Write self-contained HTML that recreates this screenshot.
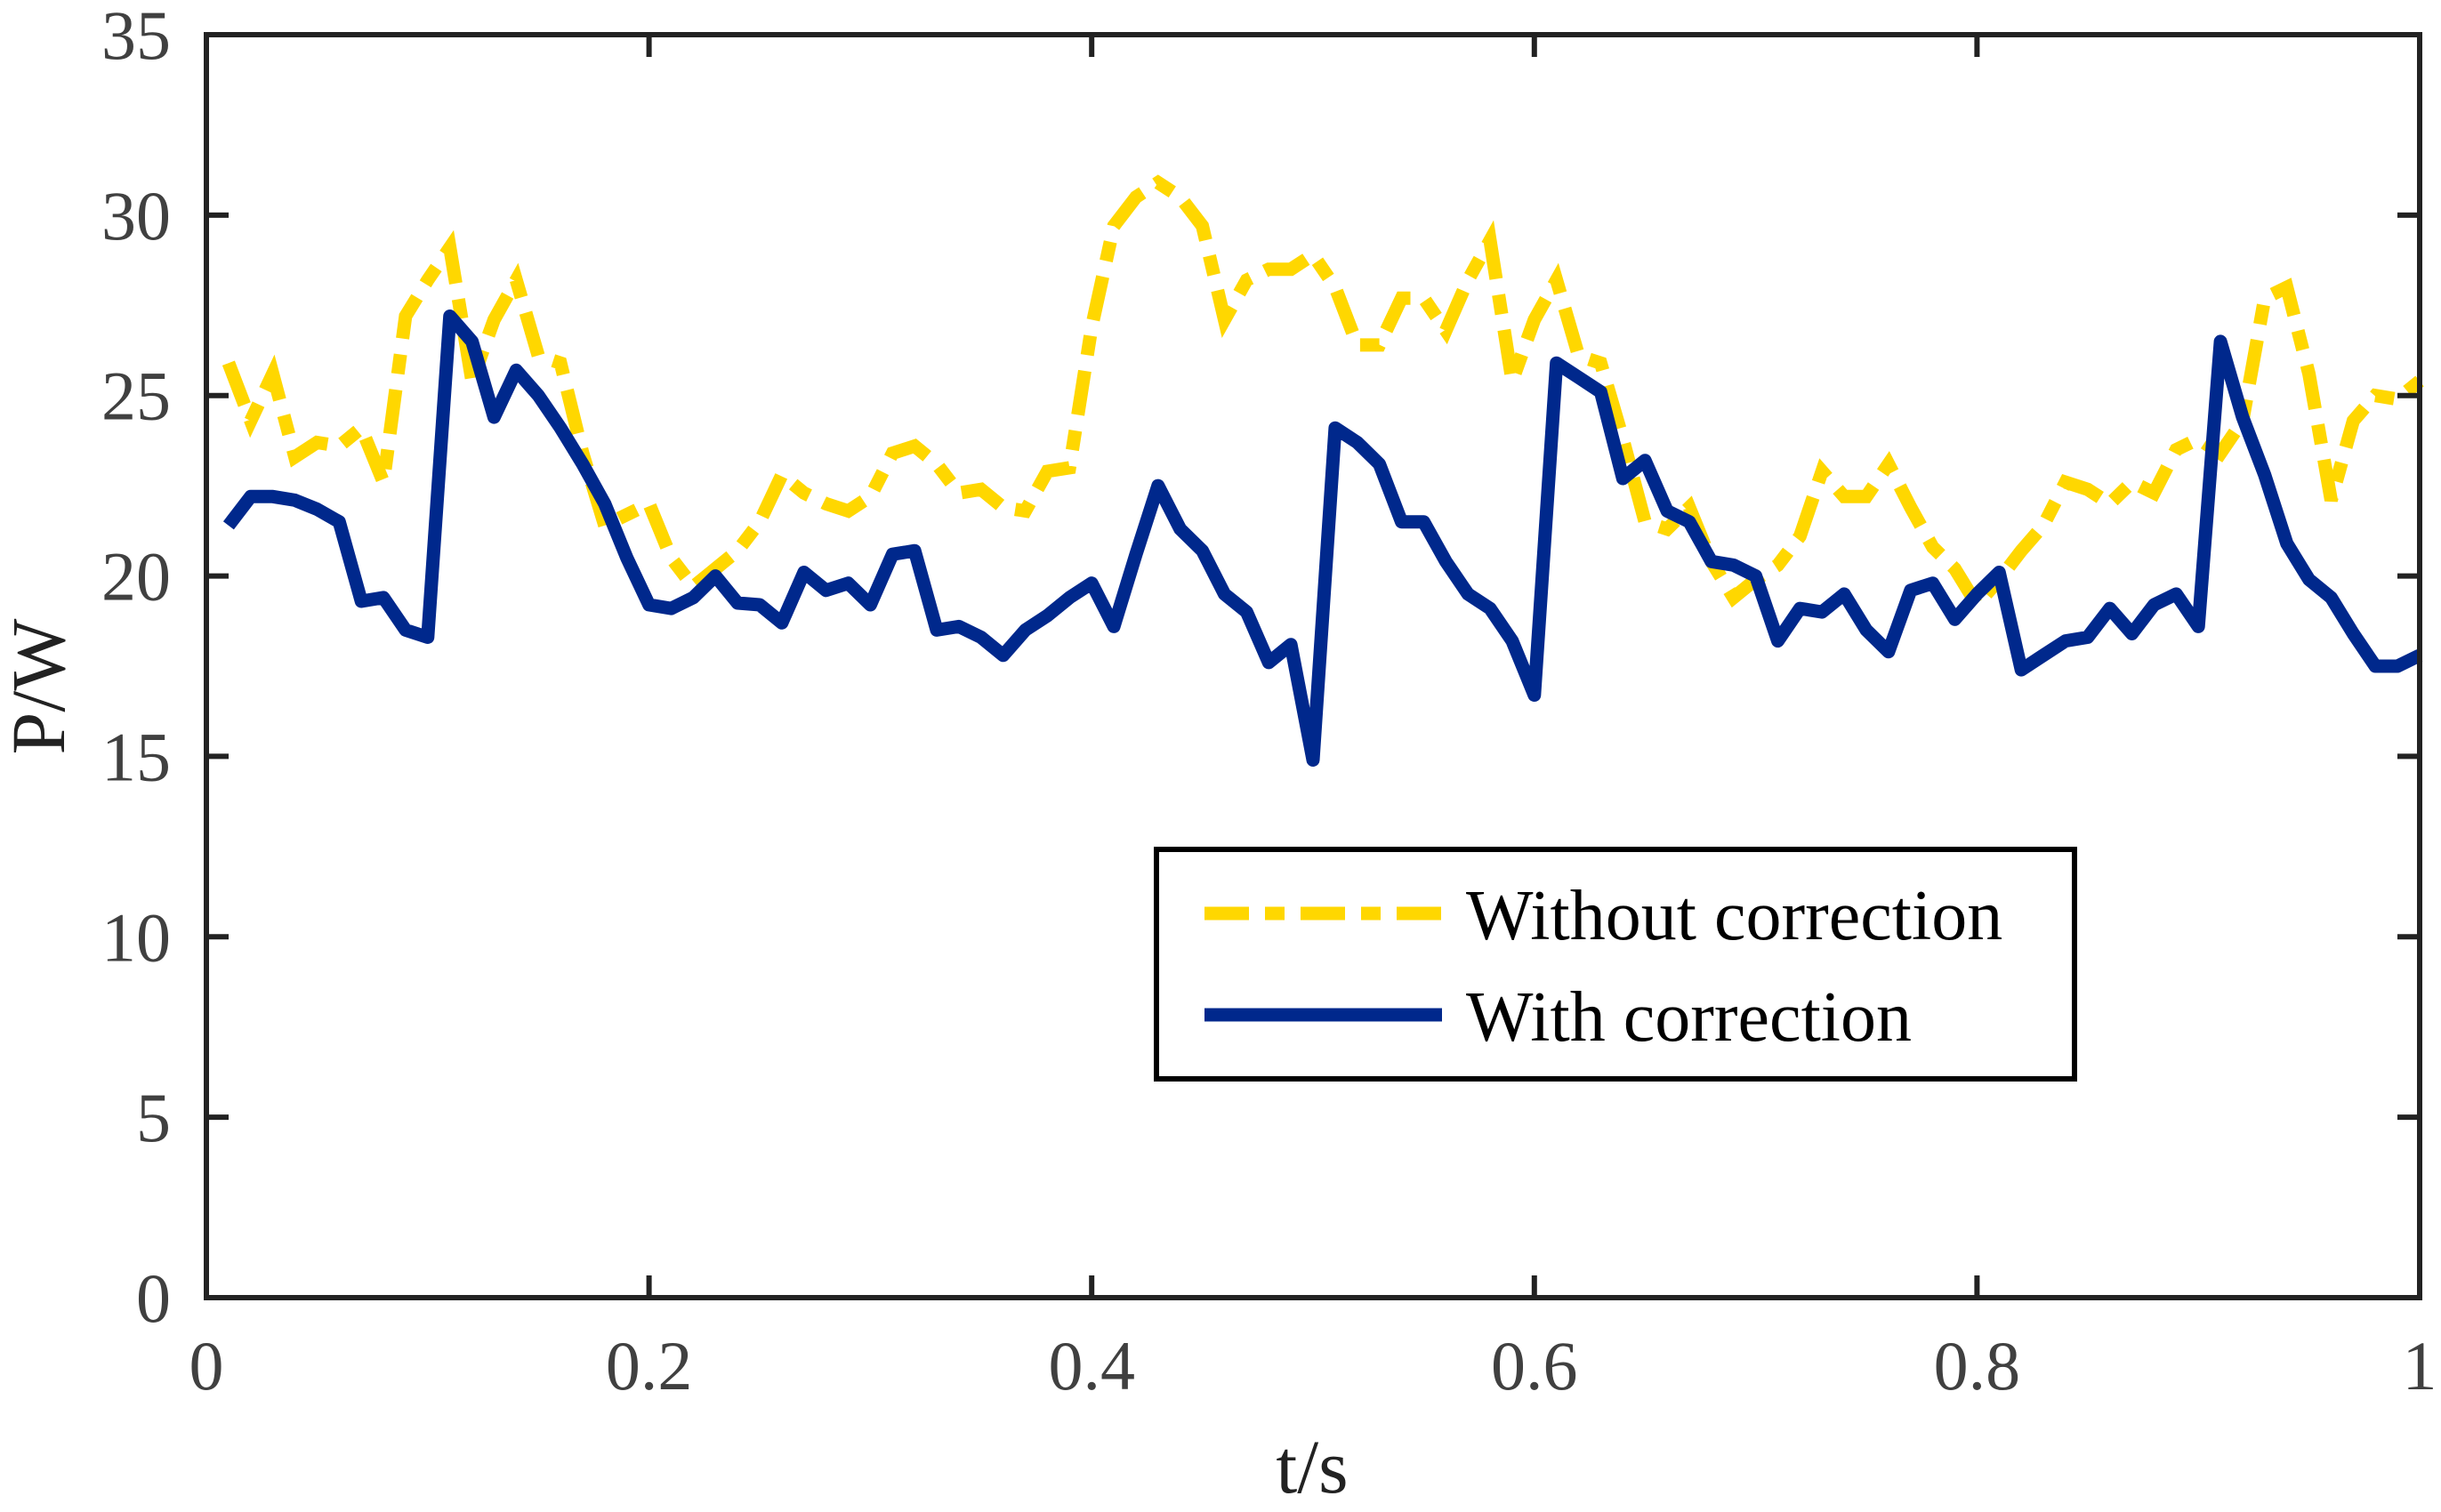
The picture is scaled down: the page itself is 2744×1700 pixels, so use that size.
<!DOCTYPE html>
<html><head><meta charset="utf-8"><style>
html,body{margin:0;padding:0;background:#fff;}
svg{display:block;}
text{font-family:"Liberation Serif",serif;}
</style></head><body>
<svg id="chart" width="2744" height="1700" viewBox="0 0 2744 1700" xmlns="http://www.w3.org/2000/svg">
<rect x="0" y="0" width="2744" height="1700" fill="#fff"/>
<g id="series"></g>
<g id="axes"></g>
<text x="1475" y="1678" font-size="86" text-anchor="middle" fill="#222">t/s</text>
<text transform="translate(72,772) rotate(-90)" font-size="86" text-anchor="middle" fill="#222">P/W</text>
<g>
<rect x="1300" y="955" width="1032" height="258" fill="#fff" stroke="#000" stroke-width="6"/>
<line x1="1354" y1="1027" x2="1621" y2="1027" stroke="#FFD700" stroke-width="15" stroke-dasharray="50 18 22 18"/>
<text x="1648" y="1056" font-size="80" fill="#000">Without correction</text>
<line x1="1354" y1="1141" x2="1621" y2="1141" stroke="#00288C" stroke-width="15"/>
<text x="1648" y="1170" font-size="80" fill="#000">With correction</text>
</g>
</svg>
<script>
const times = [];
for (let i = 1; i <= 100; i++) times.push(i / 100);
const withoutCorrection = [25.9,24.3,25.6,23.3,23.7,23.6,24.1,22.6,27.2,28.2,29.1,25.4,27.1,28.2,26.1,25.9,23.4,21.4,21.7,22.0,20.5,19.7,20.2,20.7,21.5,22.8,22.3,22.0,21.8,22.2,23.4,23.6,23.1,22.3,22.4,21.9,21.8,22.9,23.0,26.9,29.7,30.5,30.9,30.5,29.7,27.1,28.2,28.5,28.5,28.9,28.0,26.4,26.4,27.7,27.7,26.8,28.2,29.3,25.4,27.1,28.2,26.1,25.9,23.8,21.5,21.3,21.9,20.4,19.4,19.9,20.3,21.1,22.9,22.2,22.2,23.1,21.9,20.8,20.2,19.2,19.9,20.7,21.4,22.6,22.4,22.0,22.6,22.3,23.5,23.8,23.4,24.3,27.7,28.0,25.6,22.1,24.3,25.0,24.9,25.4];
const withCorrection = [21.4,22.2,22.2,22.1,21.85,21.5,19.3,19.4,18.5,18.3,27.2,26.5,24.4,25.7,25.0,24.1,23.1,22.0,20.5,19.2,19.1,19.4,20.0,19.25,19.2,18.7,20.1,19.6,19.8,19.2,20.6,20.7,18.5,18.6,18.3,17.8,18.5,18.9,19.4,19.8,18.6,20.6,22.5,21.3,20.7,19.5,19.0,17.6,18.1,14.9,24.1,23.7,23.1,21.5,21.5,20.4,19.5,19.1,18.2,16.7,25.9,25.5,25.1,22.7,23.2,21.8,21.5,20.4,20.3,20.0,18.2,19.1,19.0,19.5,18.5,17.9,19.6,19.8,18.8,19.5,20.1,17.4,17.8,18.2,18.3,19.1,18.4,19.2,19.5,18.6,26.5,24.4,22.8,20.9,19.9,19.4,18.4,17.5,17.5,17.8];
const xTicks = [0,0.2,0.4,0.6,0.8,1];
const xTickLabels = ["0","0.2","0.4","0.6","0.8","1"];
const yTicks = [0,5,10,15,20,25,30,35];
const yTickLabels = ["0","5","10","15","20","25","30","35"];

const L = 232, R = 2720, T = 39, B = 1459;
const xScale = t => L + (t - 0) / (1 - 0) * (R - L);
const yScale = v => B - (v - 0) / (35 - 0) * (B - T);
const NS = "http://www.w3.org/2000/svg";

function mk(tag, attrs, parent) {
  const el = document.createElementNS(NS, tag);
  for (const k in attrs) el.setAttribute(k, attrs[k]);
  parent.appendChild(el);
  return el;
}

const sg = document.getElementById('series');
function pathFor(vals) {
  return vals.map((v, i) => (i ? 'L' : 'M') + xScale(times[i]).toFixed(1) + ',' + yScale(v).toFixed(1)).join(' ');
}
const p1 = mk('path', {d: pathFor(withoutCorrection), fill: 'none', stroke: '#FFD700', 'stroke-width': 15, 'stroke-dasharray': '50 18 22 18', 'stroke-linejoin': 'miter'}, sg);


const p2 = mk('path', {d: pathFor(withCorrection), fill: 'none', stroke: '#00288C', 'stroke-width': 15, 'stroke-linejoin': 'round'}, sg);



const ag = document.getElementById('axes');
const frame = mk('rect', {x: L, y: T, width: R - L, height: B - T, fill: 'none', stroke: '#222', 'stroke-width': 6}, ag);


xTicks.forEach((t, i) => {
  const x = xScale(t);
  const tk = mk('path', {d: `M${x},${B} V${B - 25} M${x},${T} V${T + 25}`, stroke: '#222', 'stroke-width': 6}, ag);
  
  
  const lb = mk('text', {x: x, y: B + 103, 'font-size': 78, 'text-anchor': 'middle', fill: '#404040'}, ag);
  lb.textContent = xTickLabels[i];
  
  
});
yTicks.forEach((v, i) => {
  const y = yScale(v);
  const tk = mk('path', {d: `M${L},${y} H${L + 25} M${R},${y} H${R - 25}`, stroke: '#222', 'stroke-width': 6}, ag);
  
  
  const lb = mk('text', {x: L - 40, y: y + 27, 'font-size': 78, 'text-anchor': 'end', fill: '#404040'}, ag);
  lb.textContent = yTickLabels[i];
  
  
});
</script>
</body></html>
